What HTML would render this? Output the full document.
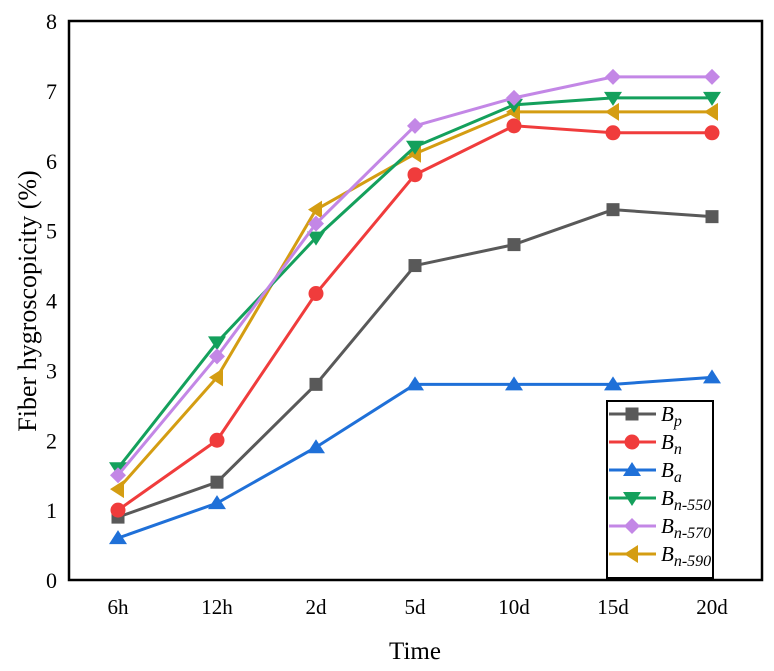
<!DOCTYPE html>
<html><head><meta charset="utf-8"><style>
body{margin:0;background:#fff}
svg{display:block;font-family:"Liberation Serif",serif}
</style></head><body>
<svg id="chart" width="774" height="671" viewBox="0 0 774 671">
<g id="axes"></g><g id="series"></g><g id="legend"></g>
<text x="415" y="659" font-size="25" text-anchor="middle">Time</text>
<text transform="translate(36,301) rotate(-90)" font-size="26" text-anchor="middle">Fiber hygroscopicity (%)</text>
</svg>
<script>
const categories=["6h","12h","2d","5d","10d","15d","20d"];
const yTicks=[0,1,2,3,4,5,6,7,8];
const seriesNames=["p","n","a","n-550","n-570","n-590"];
const Bp=[0.9,1.4,2.8,4.5,4.8,5.3,5.2];
const Bn=[1.0,2.0,4.1,5.8,6.5,6.4,6.4];
const Ba=[0.6,1.1,1.9,2.8,2.8,2.8,2.9];
const Bn550=[1.6,3.4,4.9,6.2,6.8,6.9,6.9];
const Bn570=[1.5,3.2,5.1,6.5,6.9,7.2,7.2];
const Bn590=[1.3,2.9,5.3,6.1,6.7,6.7,6.7];
const NS="http://www.w3.org/2000/svg";
const X0=69,X1=762,Y0=580,Y1=21;
const xs=i=>118+i*(712-118)/(categories.length-1);
const ys=v=>Y0-(v-0)/(8-0)*(Y0-Y1);
function mk(t,a,p){const e=document.createElementNS(NS,t);for(const k in a)e.setAttribute(k,a[k]);p.appendChild(e);return e;}
const axes=document.getElementById('axes');
let fr=mk('rect',{x:X0,y:Y1,width:X1-X0,height:Y0-Y1,fill:'none',stroke:'#000','stroke-width':2.5},axes);


yTicks.forEach(v=>{
 const t=mk('text',{x:57,y:ys(v)+8,'font-size':22,'text-anchor':'end'},axes);t.textContent=v;
 
 
});
categories.forEach((c,i)=>{
 const t=mk('text',{x:xs(i),y:614,'font-size':21,'text-anchor':'middle'},axes);t.textContent=c;
 
 
});
function marker(type,x,y,col,p){
 let s=8;
 if(type==='sq')return mk('rect',{x:x-6.5,y:y-6.5,width:13,height:13,fill:col},p);
 if(type==='ci')return mk('circle',{cx:x,cy:y,r:7.5,fill:col},p);
 if(type==='up')return mk('polygon',{points:`${x},${y-s} ${x-s-1},${y+s-2} ${x+s+1},${y+s-2}`,fill:col},p);
 if(type==='dn')return mk('polygon',{points:`${x},${y+s} ${x-s-1},${y-s+2} ${x+s+1},${y-s+2}`,fill:col},p);
 if(type==='di')return mk('polygon',{points:`${x},${y-8} ${x+8},${y} ${x},${y+8} ${x-8},${y}`,fill:col},p);
 if(type==='le')return mk('polygon',{points:`${x-s},${y} ${x+s-2},${y-s-1} ${x+s-2},${y+s+1}`,fill:col},p);
}
const defs=[[Bp,'#595959','sq'],[Bn,'#f03c3c','ci'],[Ba,'#1f70d8','up'],[Bn550,'#14a05c','dn'],[Bn570,'#c387e6','di'],[Bn590,'#d49d12','le']];
const sg=document.getElementById('series');
[2,0,1,5,3,4].forEach(k=>{
 const [d,col,m]=defs[k];
 const g=mk('g',{},sg);
 
 
 mk('polyline',{points:d.map((v,i)=>xs(i)+','+ys(v)).join(' '),fill:'none',stroke:col,'stroke-width':3},g);
 d.forEach((v,i)=>{const e=marker(m,xs(i),ys(v),col,g);
  
  });
});
const lg=document.getElementById('legend');


mk('rect',{x:607,y:401,width:106,height:177,fill:'#fff',stroke:'#000','stroke-width':2},lg);
defs.forEach(([d,col,m],k)=>{
 const y=414+k*28;
 const g=mk('g',{},lg);
 
 
 mk('line',{x1:609,y1:y,x2:656,y2:y,stroke:col,'stroke-width':3},g);
 marker(m,632,y,col,g);
 const t=mk('text',{x:661,y:y+7,'font-size':21,'font-style':'italic'},g);
 t.textContent='B';
 const s=mk('tspan',{'font-size':16,dy:5},t);s.textContent=seriesNames[k];
});
</script>
</body></html>
